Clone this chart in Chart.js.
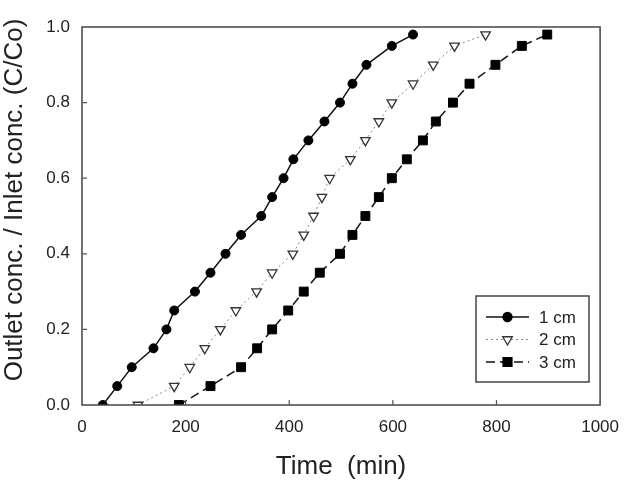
<!DOCTYPE html>
<html lang="en">
<head>
  <meta charset="UTF-8">
  <title>Breakthrough curves</title>
  <script src="https://cdn.jsdelivr.net/npm/chart.js"></script>
  <style>
    * { box-sizing: border-box; }
    body {
      margin: 0;
      background-color: #fff;
    }
    .chart-container {
      width: 631px;
      height: 482px;
      position: relative;
    }
  </style>
</head>
<body>
  <div class="chart-container">
    <canvas id="btcChart"></canvas>
  </div>

  <script>
    // Values
    const time1 = [40, 68, 96, 138, 163, 178, 218, 248, 277, 307, 346, 367, 389, 408, 437, 468, 498, 522, 549, 598, 639];
    const conc1 = [0, 0.05, 0.10, 0.15, 0.20, 0.25, 0.30, 0.35, 0.40, 0.45, 0.50, 0.55, 0.60, 0.65, 0.70, 0.75, 0.80, 0.85, 0.90, 0.95, 0.98];
    const time2 = [108, 178, 208, 237, 267, 297, 337, 367, 407, 428, 447, 463, 478, 518, 547, 573, 598, 639, 678, 719, 779];
    const conc2 = [0, 0.05, 0.10, 0.15, 0.20, 0.25, 0.30, 0.35, 0.40, 0.45, 0.50, 0.55, 0.60, 0.65, 0.70, 0.75, 0.80, 0.85, 0.90, 0.95, 0.98];
    const time3 = [187, 248, 307, 338, 367, 398, 428, 459, 498, 522, 547, 573, 598, 627, 658, 683, 716, 748, 798, 849, 898];
    const conc3 = [0, 0.05, 0.10, 0.15, 0.20, 0.25, 0.30, 0.35, 0.40, 0.45, 0.50, 0.55, 0.60, 0.65, 0.70, 0.75, 0.80, 0.85, 0.90, 0.95, 0.98];
    const seriesLabels = ['1 cm', '2 cm', '3 cm'];
    const xTicks = [0, 200, 400, 600, 800, 1000];
    const yTicks = [0, 0.2, 0.4, 0.6, 0.8, 1.0];

    const FONT = '"Liberation Sans", Arial, sans-serif';

    function pairs(xs, ys) {
      return xs.map((x, i) => ({ x: x, y: ys[i] }));
    }

    // draw one marker by hand (legend)
    function marker(ctx, style, x, y, r, fill, stroke) {
      ctx.save();
      ctx.beginPath();
      ctx.lineWidth = 1.3;
      ctx.setLineDash([]);
      ctx.fillStyle = fill;
      ctx.strokeStyle = stroke;
      if (style === 'circle') {
        ctx.arc(x, y, r, 0, Math.PI * 2);
      } else if (style === 'rect') {
        const s = r * Math.SQRT1_2;
        ctx.rect(x - s, y - s, 2 * s, 2 * s);
      } else {
        // upside-down triangle
        const h = r * 0.5, w = r * Math.sqrt(3) / 2;
        ctx.moveTo(x, y + r);
        ctx.lineTo(x - w, y - h);
        ctx.lineTo(x + w, y - h);
        ctx.closePath();
      }
      ctx.fill();
      ctx.stroke();
      ctx.restore();
    }

    // frame, inward ticks, y title and the boxed legend
    const decor = {
      id: 'decor',
      afterDraw(chart) {
        const ctx = chart.ctx;
        const a = chart.chartArea;
        const xs = chart.scales.x, ys = chart.scales.y;
        ctx.save();
        ctx.strokeStyle = '#444';
        ctx.lineWidth = 1.5;
        ctx.strokeRect(a.left, a.top, a.right - a.left, a.bottom - a.top);

        ctx.lineWidth = 1.2;
        ctx.strokeStyle = '#555';
        ctx.beginPath();
        xTicks.slice(1, -1).forEach(v => {
          const px = xs.getPixelForValue(v);
          ctx.moveTo(px, a.bottom);
          ctx.lineTo(px, a.bottom - 5);
        });
        yTicks.slice(1, -1).forEach(v => {
          const py = ys.getPixelForValue(v);
          ctx.moveTo(a.left, py);
          ctx.lineTo(a.left + 5, py);
        });
        ctx.stroke();

        // y axis title
        ctx.save();
        ctx.translate(22, 200);
        ctx.rotate(-Math.PI / 2);
        ctx.fillStyle = '#222';
        ctx.font = '26px ' + FONT;
        ctx.textAlign = 'center';
        ctx.textBaseline = 'alphabetic';
        ctx.fillText('Outlet conc. / Inlet conc. (C/Co)', 0, 0);
        ctx.restore();

        // legend
        const bx = 476, by = 296, bw = 113, bh = 86;
        ctx.fillStyle = '#fff';
        ctx.fillRect(bx, by, bw, bh);
        ctx.strokeStyle = '#444';
        ctx.lineWidth = 1.5;
        ctx.strokeRect(bx, by, bw, bh);
        const rowY = [317, 339.5, 362];
        chart.data.datasets.forEach((ds, i) => {
          const y = rowY[i];
          ctx.save();
          ctx.strokeStyle = ds.borderColor;
          ctx.lineWidth = ds.borderWidth;
          ctx.setLineDash(ds.borderDash || []);
          ctx.beginPath();
          ctx.moveTo(486, y);
          ctx.lineTo(529, y);
          ctx.stroke();
          ctx.restore();
          marker(ctx, ds.legendMarker, 507.5, y, ds.pointRadius, ds.pointBackgroundColor, ds.pointBorderColor);
          ctx.fillStyle = '#222';
          ctx.font = '17px ' + FONT;
          ctx.textAlign = 'left';
          ctx.textBaseline = 'middle';
          ctx.fillText(ds.label, 539, y + 1);
        });
        ctx.restore();
      }
    };

    new Chart(document.getElementById('btcChart'), {
      type: 'line',
      data: {
        datasets: [
          {
            label: seriesLabels[0],
            data: pairs(time1, conc1),
            borderColor: '#111',
            borderWidth: 1.5,
            pointStyle: 'circle',
            legendMarker: 'circle',
            pointRadius: 4.5,
            pointBackgroundColor: '#000',
            pointBorderColor: '#000',
            pointBorderWidth: 1
          },
          {
            label: seriesLabels[1],
            data: pairs(time2, conc2),
            borderColor: '#888',
            borderWidth: 1,
            borderDash: [2, 3],
            pointStyle: 'triangle',
            pointRotation: 180,
            legendMarker: 'triangle',
            pointRadius: 5.5,
            pointBackgroundColor: '#fff',
            pointBorderColor: '#333',
            pointBorderWidth: 1.3
          },
          {
            label: seriesLabels[2],
            data: pairs(time3, conc3),
            borderColor: '#111',
            borderWidth: 1.5,
            borderDash: [9, 5],
            pointStyle: 'rect',
            legendMarker: 'rect',
            pointRadius: 6.3,
            pointBackgroundColor: '#000',
            pointBorderColor: '#000',
            pointBorderWidth: 1
          }
        ]
      },
      options: {
        responsive: true,
        maintainAspectRatio: false,
        animation: false,
        layout: { padding: { top: 27, right: 26, left: 0, bottom: 0 } },
        plugins: {
          legend: { display: false },
          tooltip: { enabled: false }
        },
        scales: {
          x: {
            type: 'linear',
            min: 0,
            max: 1000,
            afterBuildTicks: s => { s.ticks = xTicks.map(v => ({ value: v })); },
            afterFit: s => { s.height = 77; },
            grid: { display: false, drawTicks: false },
            border: { display: false },
            ticks: {
              padding: 12,
              color: '#222',
              font: { family: FONT, size: 17 },
              maxRotation: 0,
              callback: v => String(v)
            },
            title: {
              display: true,
              text: 'Time  (min)',
              color: '#222',
              font: { family: FONT, size: 26 },
              padding: { top: 8, bottom: 0 }
            }
          },
          y: {
            type: 'linear',
            min: 0,
            max: 1,
            afterBuildTicks: s => { s.ticks = yTicks.map(v => ({ value: v })); },
            afterFit: s => { s.width = 82; },
            grid: { display: false, drawTicks: false },
            border: { display: false },
            ticks: {
              padding: 12,
              color: '#222',
              font: { family: FONT, size: 17 },
              callback: v => v.toFixed(1)
            }
          }
        }
      },
      plugins: [decor]
    });
  </script>
</body>
</html>
